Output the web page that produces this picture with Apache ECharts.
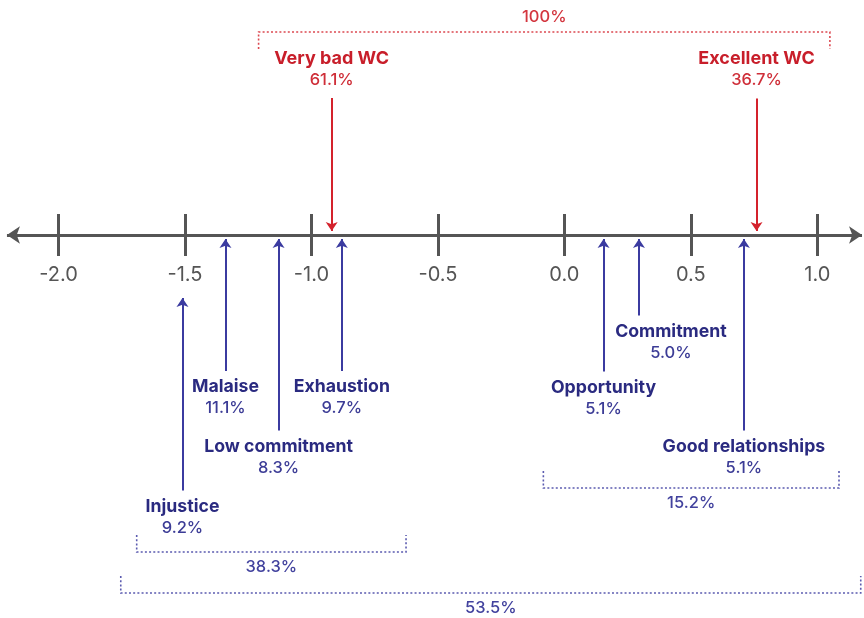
<!DOCTYPE html>
<html>
<head>
<meta charset="utf-8">
<script src="https://cdn.jsdelivr.net/npm/echarts@6/dist/echarts.min.js"></script>
<style>
html,body{margin:0;padding:0;background:#fff;}
#chart{width:864px;height:618px;}
</style>
</head>
<body>
<div id="chart"></div>
<script>
// ---- data ----
const tickValues = [-2.0, -1.5, -1.0, -0.5, 0.0, 0.5, 1.0];
const tickLabels = ['-2.0', '-1.5', '-1.0', '-0.5', '0.0', '0.5', '1.0'];

const classNames  = ['Very bad WC', 'Excellent WC'];
const classScores = [-0.92, 0.76];
const classShares = ['61.1%', '36.7%'];

const profileNames  = ['Injustice', 'Malaise', 'Low commitment', 'Exhaustion', 'Opportunity', 'Commitment', 'Good relationships'];
const profileScores = [-1.51, -1.34, -1.13, -0.88, 0.155, 0.295, 0.71];
const profileShares = ['9.2%', '11.1%', '8.3%', '9.7%', '5.1%', '5.0%', '5.1%'];

const groupLabels = ['100%', '38.3%', '15.2%', '53.5%'];

// ---- layout (pixels below / above the axis line, not data) ----
const AXIS_Y = 235;
const classDepth   = [-166, -165.5];
const profileDepth = [282, 162.5, 222, 162.5, 163, 107, 222];
const profileTip   = [63, 4, 4, 4, 4, 4, 4];
const profileDx    = [0, 0, 0, 0, 0, 32, 0];
const groupSpan    = [[-1.209, 1.050], [-1.691, -0.626], [-0.083, 1.086], [-1.754, 1.172]];
const groupDepth   = [-203, 317, 253, 358];
const groupColors  = ['#dc4850', '#5b5bb0', '#5b5bb0', '#5b5bb0'];
const groupTextColors = ['#d3363f', '#42429e', '#42429e', '#42429e'];

const RED = '#d4222c', RED_T = '#c81e2a', RED_V = '#cf2f39';
const BLUE = '#3b3ba0', BLUE_T = '#2a2a80', BLUE_V = '#3c3c96';
const FONT = 'Inter, Lato, "Noto Sans", sans-serif';

const arrowLines = [];
classScores.forEach((s, i) => {
  arrowLines.push([{coord: [s, classDepth[i] + 29], lineStyle: {color: RED, width: 2}}, {coord: [s, -4]}]);
});
profileScores.forEach((s, i) => {
  arrowLines.push([{coord: [s, profileDepth[i] - 26.5], lineStyle: {color: BLUE, width: 2}}, {coord: [s, profileTip[i]]}]);
});

const classLabelData = classScores.map((s, i) => ({
  value: [s, classDepth[i]],
  label: {formatter: '{n|' + classNames[i] + '}\n{v|' + classShares[i] + '}'}
}));
const profileLabelData = profileScores.map((s, i) => ({
  value: [s, profileDepth[i]],
  label: {offset: [profileDx[i], 0], formatter: '{n|' + profileNames[i] + '}\n{v|' + profileShares[i] + '}'}
}));

const bracketData = groupSpan.map((sp, i) => {
  const d = groupDepth[i];
  const dir = d < 0 ? 1 : -1; // verticals point toward axis
  const e = d + dir * 17;
  return {
    coords: [[sp[0], e], [sp[0], d], [sp[1], d], [sp[1], e]],
    lineStyle: {color: groupColors[i]}
  };
});
const bracketLabelData = groupSpan.map((sp, i) => {
  const d = groupDepth[i];
  const off = d < 0 ? -15 : 15.5;
  return {
    value: [(sp[0] + sp[1]) / 2, d + off],
    label: {formatter: groupLabels[i], color: groupTextColors[i]}
  };
});

const tickFmt = v => {
  const k = tickValues.findIndex(t => Math.abs(t - v) < 1e-6);
  return k >= 0 ? tickLabels[k] : '';
};

const GL = -67.9, GR = -79.7;
const tickAxisBase = {
  type: 'value', min: -2.5, max: 1.5, interval: 0.5, position: 'bottom',
  axisLine: {show: false, onZero: false},
  splitLine: {show: false}
};

const chart = echarts.init(document.getElementById('chart'), null, {renderer: 'canvas'});
chart.setOption({
  animation: false,
  backgroundColor: '#fff',
  grid: [
    {left: GL, right: GR, top: 0, bottom: 0, containLabel: false, outerBoundsMode: 'none'},
    {left: GL, right: GR, top: 0, bottom: 618 - AXIS_Y, containLabel: false, outerBoundsMode: 'none'},
    {left: GL, right: GR, top: 0, bottom: 618 - AXIS_Y, containLabel: false, outerBoundsMode: 'none'}
  ],
  xAxis: [
    {type: 'value', gridIndex: 0, min: -2.5, max: 1.5, show: false},
    Object.assign({}, tickAxisBase, {
      gridIndex: 1,
      axisTick: {show: true, inside: false, length: 21, lineStyle: {color: '#555', width: 3}},
      axisLabel: {show: true, margin: 30, fontSize: 20, color: '#555', fontFamily: FONT,
        showMinLabel: false, showMaxLabel: false, formatter: tickFmt}
    }),
    Object.assign({}, tickAxisBase, {
      gridIndex: 2,
      axisTick: {show: true, inside: true, length: 21, lineStyle: {color: '#555', width: 3}},
      axisLabel: {show: false}
    })
  ],
  yAxis: [
    {type: 'value', gridIndex: 0, min: -AXIS_Y, max: 618 - AXIS_Y, inverse: true, show: false},
    {type: 'value', gridIndex: 1, min: 0, max: 1, show: false},
    {type: 'value', gridIndex: 2, min: 0, max: 1, show: false}
  ],
  series: [
    {
      name: 'axisLine', type: 'scatter', data: [], symbolSize: 0, silent: true,
      markLine: {
        silent: true, animation: false,
        symbol: ['arrow', 'arrow'], symbolSize: 13,
        label: {show: false},
        lineStyle: {color: '#555', width: 3, type: 'solid'},
        emphasis: {disabled: true},
        data: [[{coord: [-2.204, 0]}, {coord: [1.177, 0]}]]
      }
    },
    {
      name: 'markers', type: 'scatter', data: [], symbolSize: 0, silent: true,
      markLine: {
        silent: true, animation: false,
        symbol: ['none', 'arrow'], symbolSize: 9,
        label: {show: false},
        lineStyle: {type: 'solid', width: 2},
        emphasis: {disabled: true},
        data: arrowLines
      }
    },
    {
      name: 'brackets', type: 'lines', coordinateSystem: 'cartesian2d', polyline: true, silent: true,
      lineStyle: {width: 1.6, type: [2, 2.2], opacity: 1},
      data: bracketData
    },
    {
      name: 'classLabels', type: 'scatter', symbolSize: 0, silent: true,
      itemStyle: {opacity: 1},
      data: classLabelData,
      label: {
        show: true, position: 'inside', opacity: 1,
        rich: {
          n: {fontFamily: FONT, fontWeight: 'bold', fontSize: 18, lineHeight: 22, color: RED_T, align: 'center'},
          v: {fontFamily: FONT, fontSize: 16.5, fontWeight: 500, lineHeight: 21, color: RED_V, align: 'center'}
        }
      }
    },
    {
      name: 'profileLabels', type: 'scatter', symbolSize: 0, silent: true,
      itemStyle: {opacity: 1},
      data: profileLabelData,
      label: {
        show: true, position: 'inside', opacity: 1,
        rich: {
          n: {fontFamily: FONT, fontWeight: 'bold', fontSize: 17.7, lineHeight: 22, color: BLUE_T, align: 'center'},
          v: {fontFamily: FONT, fontSize: 16.5, fontWeight: 500, lineHeight: 21, color: BLUE_V, align: 'center'}
        }
      }
    },
    {
      name: 'groupLabels', type: 'scatter', symbolSize: 0, silent: true,
      itemStyle: {opacity: 1},
      data: bracketLabelData,
      label: {show: true, position: 'inside', opacity: 1, fontFamily: FONT, fontSize: 16.5, fontWeight: 500}
    }
  ]
});
</script>
</body>
</html>
